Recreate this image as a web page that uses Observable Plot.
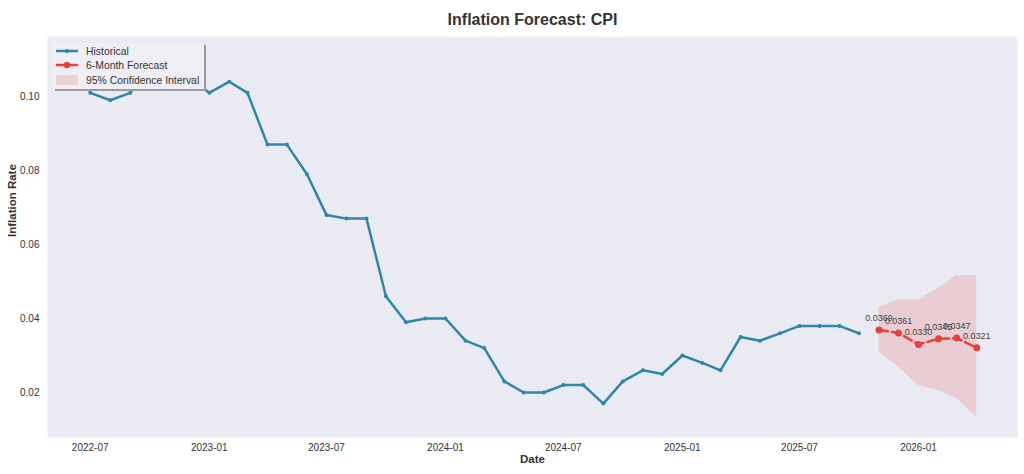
<!DOCTYPE html>
<html>
<head>
<meta charset="utf-8">
<script src="https://cdn.jsdelivr.net/npm/d3@7"></script>
<script src="https://cdn.jsdelivr.net/npm/@observablehq/plot@0.6"></script>
<style>
  body { margin: 0; background: #fff; font-family: "Liberation Sans", Arial, sans-serif; }
  #wrap { position: relative; width: 1024px; height: 474px; }
  #legend { position: absolute; left: 53px; top: 43px; width: 151px; height: 46px;
            background: #EEEEF4; box-shadow: 2px 2px 0 #9a9a9a;
            font-size: 10.4px; color: #333; }
  .row { position: absolute; left: 0; height: 14px; display: flex; align-items: center; }
  .row svg { margin-left: 2px; }
  .row span { margin-left: 7px; white-space: nowrap; }
</style>
</head>
<body>
<div id="wrap">
  <div id="chart"></div>
  <div id="legend"></div>
</div>
<script>
// ---------- data ----------
const histDates = ["2022-07","2022-08","2022-09","2022-10","2022-11","2022-12",
  "2023-01","2023-02","2023-03","2023-04","2023-05","2023-06","2023-07","2023-08","2023-09","2023-10","2023-11","2023-12",
  "2024-01","2024-02","2024-03","2024-04","2024-05","2024-06","2024-07","2024-08","2024-09","2024-10","2024-11","2024-12",
  "2025-01","2025-02","2025-03","2025-04","2025-05","2025-06","2025-07","2025-08","2025-09","2025-10"];
const histValues = [0.101,0.099,0.101,0.111,0.107,0.105,
  0.101,0.104,0.101,0.087,0.087,0.079,0.068,0.067,0.067,0.046,0.039,0.040,
  0.040,0.034,0.032,0.023,0.020,0.020,0.022,0.022,0.017,0.023,0.026,0.025,
  0.030,0.028,0.026,0.035,0.034,0.036,0.038,0.038,0.038,0.036];
const fcDates = ["2025-11","2025-12","2026-01","2026-02","2026-03","2026-04"];
const fcValues = [0.0369,0.0361,0.0330,0.0345,0.0347,0.0321];
const ciLower = [0.0308,0.0268,0.0219,0.0205,0.0184,0.0133];
const ciUpper = [0.0431,0.0451,0.0451,0.0481,0.0516,0.0516];
const xTickLabels = ["2022-07","2023-01","2023-07","2024-01","2024-07","2025-01","2025-07","2026-01"];
const yTicks = [0.02,0.04,0.06,0.08,0.10];
const seriesNames = ["Historical","6-Month Forecast","95% Confidence Interval"];

const parse = d3.utcParse("%Y-%m");
const hist = histDates.map((d,i) => ({date: parse(d), v: histValues[i]}));
const fc = fcDates.map((d,i) => ({date: parse(d), v: fcValues[i], lo: ciLower[i], hi: ciUpper[i]}));

const BLUE = "#2E86AB", RED = "#E8403A";

const chart = Plot.plot({
  width: 1024, height: 474,
  marginLeft: 47, marginRight: 7, marginTop: 36, marginBottom: 37,
  style: { fontFamily: '"Liberation Sans", Arial, sans-serif', background: "transparent", color: "#333" },
  x: { type: "utc", domain: [new Date("2022-04-26"), new Date("2026-06-03")] },
  y: { domain: [0.00784, 0.11622] },
  marks: [
    Plot.frame({ fill: "#EAEAF2", stroke: null }),
    Plot.areaY(fc, { x: "date", y1: "lo", y2: "hi", fill: RED, fillOpacity: 0.17 }),
    Plot.lineY(hist, { x: "date", y: "v", stroke: BLUE, strokeWidth: 2.5 }),
    Plot.dot(hist, { x: "date", y: "v", r: 2, fill: BLUE }),
    Plot.lineY(fc, { x: "date", y: "v", stroke: RED, strokeWidth: 2.5, strokeDasharray: "9,4" }),
    Plot.dot(fc, { x: "date", y: "v", r: 3.5, fill: RED }),
    Plot.text(fc, { x: "date", y: "v", text: d => d.v.toFixed(4), dy: -12, fontSize: 9, fill: "#444" }),
    Plot.axisX({ ticks: xTickLabels.map(parse), tickFormat: d3.utcFormat("%Y-%m"), tickSize: 0, tickPadding: 6, fontSize: 10, label: null }),
    Plot.axisY({ ticks: yTicks, tickFormat: d3.format(".2f"), tickSize: 0, tickPadding: 8, fontSize: 10, label: null }),
    Plot.text(["Inflation Forecast: CPI"], { frameAnchor: "top", dy: -23, fontSize: 16, fontWeight: "bold", fill: "#333" }),
    Plot.text(["Date"], { frameAnchor: "bottom", dy: 25, fontSize: 11.5, fontWeight: "bold", fill: "#333" }),
    Plot.text(["Inflation Rate"], { frameAnchor: "left", dx: -35, rotate: -90, fontSize: 11.5, fontWeight: "bold", fill: "#333" })
  ]
});
document.getElementById("chart").appendChild(chart);

// legend
const legend = document.getElementById("legend");
const swatches = [
  `<svg width="24" height="10"><line x1="1" y1="5" x2="23" y2="5" stroke="${BLUE}" stroke-width="2.5"/><circle cx="12" cy="5" r="2" fill="${BLUE}"/></svg>`,
  `<svg width="24" height="10"><line x1="1" y1="5" x2="23" y2="5" stroke="${RED}" stroke-width="2.5"/><circle cx="12" cy="5" r="3.2" fill="${RED}"/></svg>`,
  `<svg width="24" height="10"><rect x="1" y="0" width="22" height="10" fill="${RED}" fill-opacity="0.17"/></svg>`
];
const rowTops = [1, 15, 30];
seriesNames.forEach((n,i) => {
  const r = document.createElement("div");
  r.className = "row";
  r.style.top = rowTops[i] + "px";
  r.innerHTML = swatches[i] + `<span>${n}</span>`;
  legend.appendChild(r);
});
</script>
</body>
</html>
